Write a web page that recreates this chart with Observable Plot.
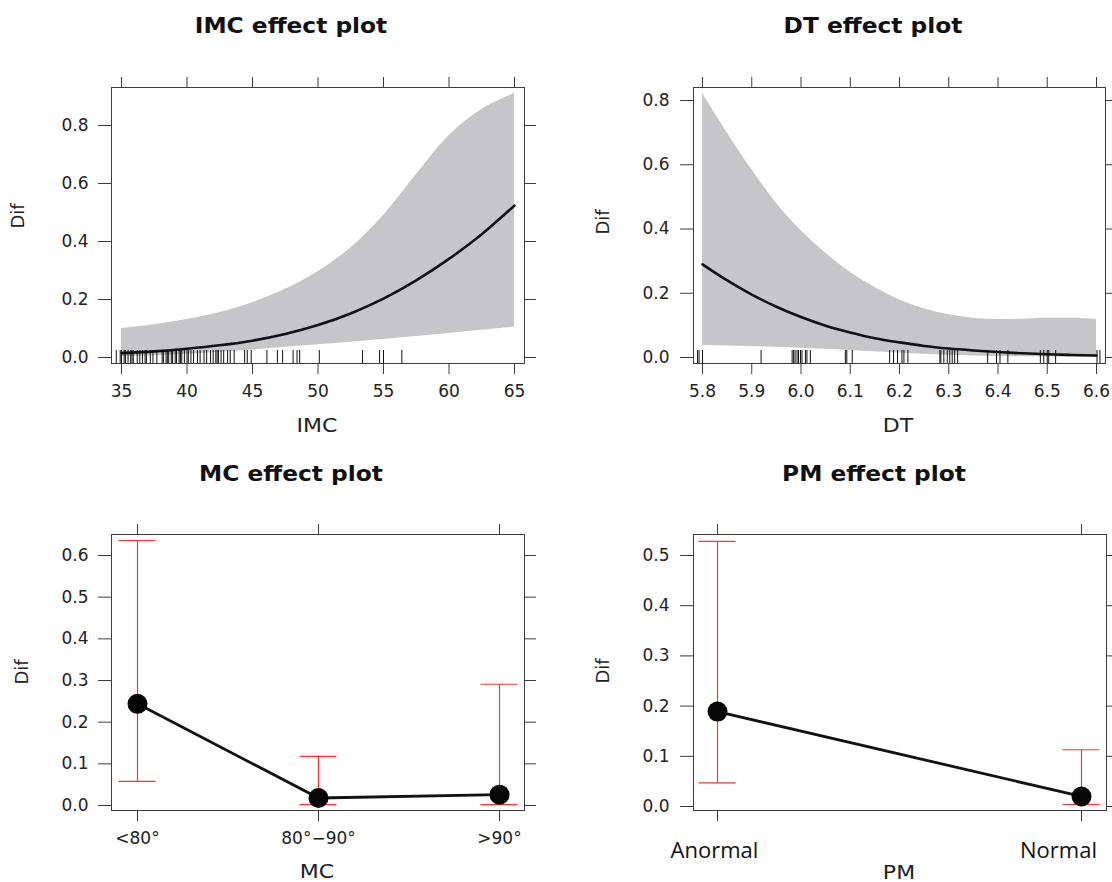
<!DOCTYPE html>
<html><head><meta charset="utf-8">
<script src="https://cdn.jsdelivr.net/npm/d3@7"></script>
<script src="https://cdn.jsdelivr.net/npm/@observablehq/plot@0.6"></script>
<style>
html,body{margin:0;padding:0;background:#fff;overflow:hidden;}
#root{position:relative;width:1112px;height:882px;font-family:"DejaVu Sans",sans-serif;color:#222;}
.panel{position:absolute;}
.t{position:absolute;white-space:nowrap;line-height:1;}
</style></head><body><div id="root"></div>
<script>
// ---------- IMC effect ----------
const imcX     = [35, 37.5, 40, 42.5, 45, 47.5, 50, 52.5, 55, 57.5, 60, 62.5, 65];
const imcFit   = [0.015, 0.021, 0.030, 0.042, 0.058, 0.081, 0.112, 0.152, 0.203, 0.266, 0.340, 0.425, 0.524];
const imcLower = [0.003, 0.006, 0.011, 0.018, 0.026, 0.035, 0.044, 0.053, 0.062, 0.072, 0.083, 0.094, 0.105];
const imcUpper = [0.100, 0.113, 0.131, 0.155, 0.189, 0.235, 0.296, 0.378, 0.490, 0.630, 0.765, 0.855, 0.910];
const imcRug = [34.6, 34.9, 35.0, 35.2, 35.3, 35.5, 35.7, 35.8, 35.9, 36.2, 36.4, 36.6, 36.8, 36.9, 37.2, 37.4,
  37.7, 38.1, 38.2, 38.4, 38.5, 38.6, 38.8, 38.9, 39.1, 39.2, 39.4, 39.5, 39.6, 39.8, 40.0, 40.1, 40.3, 40.5,
  40.8, 41.0, 41.3, 41.5, 41.8, 42.0, 42.2, 42.3, 42.4, 42.6, 42.8, 43.1, 43.3, 43.6, 44.4, 44.6, 44.9, 46.1,
  46.9, 47.3, 48.1, 48.4, 48.6, 50.1, 53.4, 54.7, 55.0, 56.4];
const imcTicks = [35, 40, 45, 50, 55, 60, 65];
const imcYTicks = [0, 0.2, 0.4, 0.6, 0.8];

// ---------- DT effect ----------
const dtX     = [5.80, 5.85, 5.90, 5.95, 6.00, 6.05, 6.10, 6.15, 6.20, 6.25, 6.30, 6.35, 6.40, 6.45, 6.50, 6.55, 6.60];
const dtFit   = [0.290, 0.240, 0.196, 0.158, 0.126, 0.099, 0.078, 0.060, 0.047, 0.036, 0.028, 0.022, 0.017, 0.013, 0.010, 0.008, 0.006];
const dtLower = [0.037, 0.036, 0.034, 0.032, 0.029, 0.026, 0.022, 0.018, 0.014, 0.010, 0.007, 0.005, 0.003, 0.002, 0.0015, 0.001, 0.0007];
const dtUpper = [0.822, 0.700, 0.585, 0.480, 0.395, 0.325, 0.265, 0.218, 0.180, 0.152, 0.133, 0.122, 0.118, 0.119, 0.122, 0.122, 0.118];
const dtRug = [5.79, 5.793, 5.80, 5.919, 5.982, 5.985, 5.988, 5.992, 5.995, 5.999, 6.002, 6.009, 6.012, 6.019,
  6.09, 6.093, 6.104, 6.18, 6.188, 6.196, 6.205, 6.209, 6.217, 6.282, 6.284, 6.29, 6.297, 6.302, 6.307, 6.312,
  6.318, 6.379, 6.397, 6.404, 6.42, 6.486, 6.493, 6.50, 6.503, 6.517, 6.601, 6.607];
const dtTicks = [5.8, 5.9, 6.0, 6.1, 6.2, 6.3, 6.4, 6.5, 6.6];
const dtYTicks = [0, 0.2, 0.4, 0.6, 0.8];

// ---------- MC effect ----------
const mcCats  = ["<80°", "80°−90°", ">90°"];
const mcFit   = [0.244, 0.018, 0.026];
const mcLower = [0.058, 0.002, 0.002];
const mcUpper = [0.636, 0.118, 0.291];
const mcYTicks = [0, 0.1, 0.2, 0.3, 0.4, 0.5, 0.6];

// ---------- PM effect ----------
const pmCats  = ["Anormal", "Normal"];
const pmFit   = [0.189, 0.020];
const pmLower = [0.047, 0.004];
const pmUpper = [0.528, 0.113];
const pmYTicks = [0, 0.1, 0.2, 0.3, 0.4, 0.5];

// ---------- styling ----------
const frameColor = "#3c3c3c";
const bandFill = "#c6c5c7";
const errColor = "#ff3333";
const f1 = d3.format(".1f");
const baseStyle = {fontFamily: "DejaVu Sans, sans-serif", fontSize: "17px", color: "#222", background: "transparent", overflow: "hidden"};

const root = document.getElementById("root");
function place(svg, left, top) {
  const d = document.createElement("div");
  d.className = "panel";
  d.style.left = left + "px"; d.style.top = top + "px";
  d.appendChild(svg); root.appendChild(d);
}
function label(text, cx, cy, o = {}) {
  const d = document.createElement("div");
  d.className = "t";
  d.textContent = text;
  d.style.left = cx + "px"; d.style.top = cy + "px";
  d.style.fontSize = (o.size || 17) + "px";
  d.style.fontWeight = o.weight || "normal";
  d.style.fontFamily = o.family || "DejaVu Sans, sans-serif";
  d.style.color = o.color || "#222";
  d.style.transform = `translate(-50%,-50%) ${o.rotate ? "rotate(" + o.rotate + "deg)" : ""} ${o.sx ? "scaleX(" + o.sx + ")" : ""}`;
  root.appendChild(d);
}
function errorMarks(rows) {
  return [
    Plot.ruleX(rows, {x: "c", y1: "lo", y2: "hi", stroke: errColor, strokeWidth: 1.2}),
    Plot.ruleY(rows, {x1: "c", x2: "c", y: "hi", stroke: errColor, strokeWidth: 1.2, insetLeft: -18.5, insetRight: -18.5}),
    Plot.ruleY(rows, {x1: "c", x2: "c", y: "lo", stroke: errColor, strokeWidth: 1.2, insetLeft: -18.5, insetRight: -18.5}),
    Plot.line(rows, {x: "c", y: "fit", stroke: "#111", strokeWidth: 2.8}),
    Plot.dot(rows, {x: "c", y: "fit", r: 10, fill: "#050505", stroke: "none"})
  ];
}

// IMC panel
const imcRows = imcX.map((x, i) => ({x, fit: imcFit[i], lo: imcLower[i], hi: imcUpper[i]}));
place(Plot.plot({
  width: 556, height: 400,
  marginLeft: 111, marginRight: 32, marginTop: 37, marginBottom: 87,
  x: {domain: [35, 65], range: [121, 514]},
  y: {domain: [0, 0.8], range: [307, 75]},
  style: baseStyle,
  marks: [
    Plot.areaY(imcRows, {x: "x", y1: "lo", y2: "hi", fill: bandFill, curve: "catmull-rom"}),
    Plot.ruleX(imcRug, {x: d => d, insetTop: 263, stroke: "#111", strokeWidth: 1}),
    Plot.lineY(imcRows, {x: "x", y: "fit", stroke: "#111", strokeWidth: 2.6, curve: "monotone-x"}),
    Plot.frame({stroke: frameColor}),
    Plot.axisX({anchor: "bottom", ticks: imcTicks, tickSize: 11, tickPadding: 10, tickFormat: d => String(d), label: null, stroke: frameColor}),
    Plot.axisX({anchor: "top", ticks: imcTicks, tickSize: 11, fill: "none", label: null, stroke: frameColor}),
    Plot.axisY({anchor: "left", ticks: imcYTicks, tickSize: 13, tickPadding: 10, tickFormat: f1, label: null, stroke: frameColor}),
    Plot.axisY({anchor: "right", ticks: imcYTicks, tickSize: 11, fill: "none", label: null, stroke: frameColor})
  ]
}), 0, 50);

// DT panel
const dtRows = dtX.map((x, i) => ({x, fit: dtFit[i], lo: dtLower[i], hi: dtUpper[i]}));
place(Plot.plot({
  width: 556, height: 400,
  marginLeft: 137, marginRight: 7, marginTop: 37, marginBottom: 87,
  x: {domain: [5.8, 6.6], range: [146, 540]},
  y: {domain: [0, 0.8], range: [307, 50]},
  style: baseStyle,
  marks: [
    Plot.areaY(dtRows, {x: "x", y1: "lo", y2: "hi", fill: bandFill, curve: "monotone-x"}),
    Plot.ruleX(dtRug, {x: d => d, insetTop: 263, stroke: "#111", strokeWidth: 1}),
    Plot.lineY(dtRows, {x: "x", y: "fit", stroke: "#111", strokeWidth: 2.6, curve: "monotone-x"}),
    Plot.frame({stroke: frameColor}),
    Plot.axisX({anchor: "bottom", ticks: dtTicks, tickSize: 11, tickPadding: 10, tickFormat: f1, label: null, stroke: frameColor}),
    Plot.axisX({anchor: "top", ticks: dtTicks, tickSize: 11, fill: "none", label: null, stroke: frameColor}),
    Plot.axisY({anchor: "left", ticks: dtYTicks, tickSize: 13, tickPadding: 11, tickFormat: f1, label: null, stroke: frameColor}),
    Plot.axisY({anchor: "right", ticks: dtYTicks, tickSize: 11, fill: "none", label: null, stroke: frameColor})
  ]
}), 556, 50);

// MC panel
const mcRows = mcCats.map((c, i) => ({c, fit: mcFit[i], lo: mcLower[i], hi: mcUpper[i]}));
place(Plot.plot({
  width: 556, height: 432,
  marginLeft: 111, marginRight: 32, marginTop: 84, marginBottom: 72,
  x: {type: "point", domain: mcCats, range: [136, 499], padding: 0},
  y: {domain: [0, 0.6], range: [355, 105]},
  style: baseStyle,
  marks: [
    ...errorMarks(mcRows),
    Plot.frame({stroke: frameColor}),
    Plot.axisX({anchor: "bottom", ticks: mcCats, tickSize: 11, tickPadding: 10, label: null, stroke: frameColor}),
    Plot.axisX({anchor: "top", ticks: mcCats, tickSize: 11, fill: "none", label: null, stroke: frameColor}),
    Plot.axisY({anchor: "left", ticks: mcYTicks, tickSize: 13, tickPadding: 10, tickFormat: f1, label: null, stroke: frameColor}),
    Plot.axisY({anchor: "right", ticks: mcYTicks, tickSize: 11, fill: "none", label: null, stroke: frameColor})
  ]
}), 0, 450);

// PM panel
const pmRows = pmCats.map((c, i) => ({c, fit: pmFit[i], lo: pmLower[i], hi: pmUpper[i]}));
place(Plot.plot({
  width: 556, height: 432,
  marginLeft: 137, marginRight: 6, marginTop: 84, marginBottom: 72,
  x: {type: "point", domain: pmCats, range: [161, 525], padding: 0},
  y: {domain: [0, 0.5], range: [356, 105]},
  style: baseStyle,
  marks: [
    ...errorMarks(pmRows),
    Plot.frame({stroke: frameColor}),
    Plot.axisX({anchor: "bottom", ticks: pmCats, tickSize: 11, fill: "none", label: null, stroke: frameColor}),
    Plot.axisX({anchor: "top", ticks: pmCats, tickSize: 11, fill: "none", label: null, stroke: frameColor}),
    Plot.text([pmCats[0]], {x: d => d, frameAnchor: "bottom", lineAnchor: "bottom", dx: -3, dy: 47, fontFamily: "Open Sans", fontSize: 22, fill: "#111"}),
    Plot.text([pmCats[1]], {x: d => d, frameAnchor: "bottom", lineAnchor: "bottom", dx: -23, dy: 47, fontFamily: "Open Sans", fontSize: 22, fill: "#111"}),
    Plot.axisY({anchor: "left", ticks: pmYTicks, tickSize: 13, tickPadding: 11, tickFormat: f1, label: null, stroke: frameColor}),
    Plot.axisY({anchor: "right", ticks: pmYTicks, tickSize: 11, fill: "none", label: null, stroke: frameColor})
  ]
}), 556, 450);

// Titles and axis titles
const T = {size: 21, weight: "bold", color: "#111", sx: 1.11};
label("IMC effect plot", 290.5, 25.5, T);
label("DT effect plot", 873, 25.5, T);
label("MC effect plot", 290.5, 474, T);
label("PM effect plot", 874, 474, T);
const A = {size: 20, sx: 1.1};
label("IMC", 317, 425, A);
label("DT", 898, 425, A);
label("MC", 317, 871, A);
label("PM", 899, 872, A);
const D = {size: 18, rotate: -90};
label("Dif", 18, 216, D);
label("Dif", 603, 222, D);
label("Dif", 22, 672, D);
label("Dif", 603, 671, D);
</script></body></html>
